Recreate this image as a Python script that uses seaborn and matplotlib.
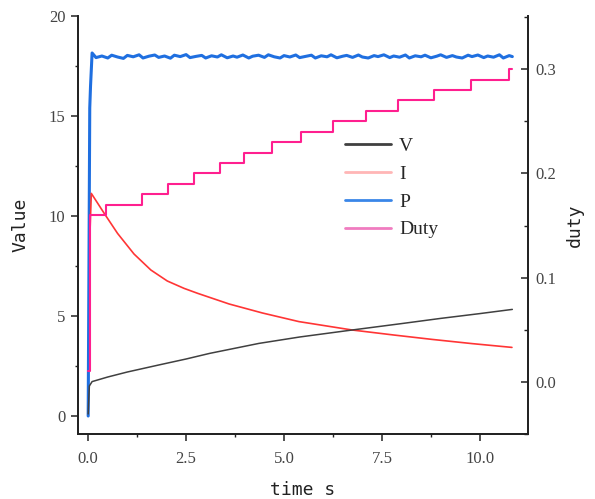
import numpy as np
import pandas as pd
import matplotlib
matplotlib.use("Agg")
import matplotlib.pyplot as plt
from matplotlib.lines import Line2D
from matplotlib.ticker import MultipleLocator, FormatStrFormatter
import seaborn as sns

# ---------------- data ----------------
v_time = [0.0, 0.03, 0.1, 0.5, 1.0, 1.8, 2.5, 3.1, 4.36, 5.4, 6.74, 8.0, 9.0, 10.0, 10.83]
v_vals = [0.1, 1.5, 1.72, 1.95, 2.2, 2.55, 2.85, 3.13, 3.63, 3.95, 4.3, 4.62, 4.88, 5.12, 5.33]

i_time = [0.05, 0.08, 0.41, 0.75, 1.17, 1.6, 2.02, 2.45, 2.8, 3.6, 4.45, 5.38, 6.74, 7.8, 8.78, 9.8, 10.82]
i_vals = [9.4, 11.13, 10.13, 9.13, 8.1, 7.3, 6.75, 6.38, 6.13, 5.6, 5.15, 4.72, 4.3, 4.05, 3.83, 3.62, 3.43]

p_time = [0.0, 0.04, 0.06, 0.1, 0.2, 0.35, 0.5, 0.6, 0.75, 0.9, 1.0, 1.15, 1.3, 1.4, 1.55,
          1.7, 1.8, 1.95, 2.1, 2.2, 2.35, 2.5, 2.6, 2.75, 2.9, 3.0, 3.15, 3.3, 3.4, 3.55,
          3.7, 3.8, 3.95, 4.1, 4.2, 4.35, 4.5, 4.6, 4.75, 4.9, 5.0, 5.15, 5.3, 5.4, 5.55,
          5.7, 5.8, 5.95, 6.1, 6.2, 6.35, 6.5, 6.6, 6.75, 6.9, 7.0, 7.15, 7.3, 7.4, 7.55,
          7.7, 7.8, 7.95, 8.1, 8.2, 8.35, 8.5, 8.6, 8.75, 8.9, 9.0, 9.15, 9.3, 9.4, 9.55,
          9.7, 9.8, 9.95, 10.1, 10.2, 10.35, 10.5, 10.6, 10.75, 10.83]
p_vals = [0.0, 15.4, 16.5, 18.15, 17.92, 18.0, 17.9, 18.04, 17.95, 17.88, 18.03, 17.96, 18.06, 17.9, 17.99,
          18.05, 17.93, 18.0, 17.89, 18.04, 17.97, 18.07, 17.92, 17.98, 18.03, 17.9, 18.01, 17.95, 18.06, 17.91,
          18.0, 17.94, 18.05, 17.9, 17.99, 18.04, 17.93, 18.06, 17.96, 17.9, 18.02, 17.95, 18.05, 17.92, 17.98,
          18.04, 17.9, 18.01, 17.96, 18.06, 17.91, 17.99, 18.03, 17.93, 18.05, 17.95, 17.9, 18.02, 17.97, 18.06,
          17.92, 18.0, 17.94, 18.05, 17.9, 18.01, 17.96, 18.04, 17.91, 17.99, 18.06, 17.93, 18.02, 17.95, 17.9,
          18.04, 17.97, 18.05, 17.92, 18.0, 17.94, 18.06, 17.9, 18.02, 17.97]

duty_time = [0.0, 0.04, 0.45, 1.38, 2.05, 2.70, 3.36, 3.99, 4.70, 5.44, 6.25, 7.10, 7.92, 8.83, 9.78, 10.74, 10.83]
duty_vals = [0.01, 0.16, 0.17, 0.18, 0.19, 0.20, 0.21, 0.22, 0.23, 0.24, 0.25, 0.26, 0.27, 0.28, 0.29, 0.30, 0.30]

legend_labels = ["V", "I", "P", "Duty"]

# ---------------- style ----------------
sns.set_theme(style="ticks")
plt.rcParams["font.family"] = ["Liberation Serif", "DejaVu Serif"]

fig = plt.figure(figsize=(5.95, 4.99), dpi=100)
ax = fig.add_axes([78 / 595, 1 - 434 / 499, (528 - 78) / 595, (434 - 16) / 499])
ax2 = ax.twinx()

dv = pd.DataFrame({"t": v_time, "y": v_vals})
di = pd.DataFrame({"t": i_time, "y": i_vals})
dp = pd.DataFrame({"t": p_time, "y": p_vals})
dd = pd.DataFrame({"t": duty_time, "y": duty_vals})

sns.lineplot(data=dp, x="t", y="y", ax=ax, color="#1f6fe0", lw=2.2, estimator=None, sort=False)
sns.lineplot(data=di, x="t", y="y", ax=ax, color="#ff3535", lw=1.2, estimator=None, sort=False)
sns.lineplot(data=dv, x="t", y="y", ax=ax, color="#404040", lw=1.1, estimator=None, sort=False)
sns.lineplot(data=dd, x="t", y="y", ax=ax2, color="#ff1f8f", lw=1.5, estimator=None, sort=False,
             drawstyle="steps-post")

ax.set_xlim(-0.26, 11.23)
ax.set_ylim(-0.9, 20)
ax2.set_ylim(-0.05, 0.351)

ax.xaxis.set_major_locator(MultipleLocator(2.5))
ax.xaxis.set_minor_locator(MultipleLocator(1.25))
ax.xaxis.set_major_formatter(FormatStrFormatter("%.1f"))
ax.yaxis.set_major_locator(MultipleLocator(5))
ax.yaxis.set_minor_locator(MultipleLocator(2.5))
ax2.yaxis.set_major_locator(MultipleLocator(0.1))
ax2.yaxis.set_minor_locator(MultipleLocator(0.05))
ax2.yaxis.set_major_formatter(FormatStrFormatter("%.1f"))

tick_col = "#444444"
for a in (ax, ax2):
    a.spines["top"].set_visible(False)
    for s in a.spines.values():
        s.set_linewidth(1.3)
        s.set_color("#222222")
ax.tick_params(axis="both", which="major", direction="out", length=5, width=1.1,
               labelsize=12, labelcolor=tick_col, color="#222222", pad=4)
ax.tick_params(axis="both", which="minor", direction="out", length=2.5, width=1.0, color="#222222")
ax.tick_params(axis="x", which="major", pad=7)
ax2.tick_params(axis="y", which="major", direction="in", length=5, width=1.1,
                labelsize=12, labelcolor=tick_col, color="#222222", pad=5)
ax2.tick_params(axis="y", which="minor", direction="in", length=3, width=1.0, color="#222222")

mono = "DejaVu Sans Mono"
ax.set_xlabel("time s", fontsize=13, family=mono, color="#222222", labelpad=10)
ax.set_ylabel("Value", fontsize=13, family=mono, color="#222222", labelpad=14)
ax2.set_ylabel("duty", fontsize=13, family=mono, color="#222222", labelpad=7)

handles = [Line2D([], [], color=c, lw=2) for c in ["#404040", "#ffb6b6", "#3a86e8", "#f07cc0"]]
leg = ax2.legend(handles, legend_labels, loc="upper left", bbox_to_anchor=(331 / 595, 1 - 124 / 499),
                 bbox_transform=fig.transFigure, frameon=False, fontsize=14,
                 handlelength=2.4, handletextpad=0.4, labelspacing=0.52, borderpad=0.2)

fig.savefig("out.png", dpi=100)
